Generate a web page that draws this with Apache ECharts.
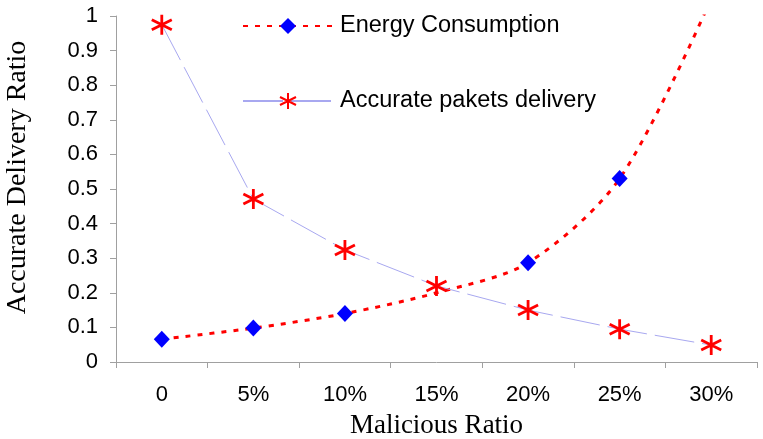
<!DOCTYPE html>
<html>
<head>
<meta charset="utf-8">
<script src="https://cdn.jsdelivr.net/npm/echarts@6/dist/echarts.min.js"></script>
<style>
html,body{margin:0;padding:0;background:#fff;}
#chart{width:763px;height:439px;}
</style>
</head>
<body>
<div id="chart"></div>
<script>
const categories = ['0', '5%', '10%', '15%', '20%', '25%', '30%'];
const energyValues = [0.066, 0.098, 0.14, 0.2, 0.287, 0.53, 1.05];
const energyHiddenMarkers = [3, 6];
const accurateValues = [0.975, 0.471, 0.324, 0.22, 0.15, 0.095, 0.049];
const yTicks = [0, 0.1, 0.2, 0.3, 0.4, 0.5, 0.6, 0.7, 0.8, 0.9, 1];

const asterisk = 'path://M10,0L10,20M1.3,5L18.7,15M1.3,15L18.7,5';

const chart = echarts.init(document.getElementById('chart'));
chart.setOption({
  animation: false,
  backgroundColor: '#fff',
  grid: { left: 116, right: 6, top: 16, bottom: 77, containLabel: false, outerBoundsMode: 'none' },
  legend: {
    orient: 'vertical',
    left: 237,
    top: 9,
    itemWidth: 90,
    itemHeight: 20,
    itemGap: 51,
    textStyle: { fontFamily: 'Liberation Sans, Arial', fontSize: 23.5, color: '#000', padding: [0, 0, 0, 2] },
    data: ['Energy Consumption', 'Accurate pakets delivery']
  },
  xAxis: {
    type: 'category',
    data: categories,
    boundaryGap: true,
    name: 'Malicious Ratio',
    nameLocation: 'middle',
    nameGap: 50,
    nameTextStyle: { fontFamily: 'Liberation Serif, Times New Roman', fontSize: 27, color: '#000' },
    axisLine: { lineStyle: { color: '#a0a0a0', width: 1 } },
    axisTick: { show: true, length: 6, alignWithLabel: false, lineStyle: { color: '#a0a0a0' } },
    axisLabel: { fontFamily: 'Liberation Sans, Arial', fontSize: 22, color: '#000', margin: 22 },
    splitLine: { show: false }
  },
  yAxis: {
    type: 'value',
    min: 0,
    max: 1,
    interval: 0.1,
    name: 'Accurate Delivery Ratio',
    nameLocation: 'middle',
    nameGap: 84,
    nameTextStyle: { fontFamily: 'Liberation Serif, Times New Roman', fontSize: 28, color: '#000', padding: [0, 0, 0, 23] },
    axisLine: { show: true, lineStyle: { color: '#a0a0a0', width: 1 } },
    axisTick: { show: true, length: 6, lineStyle: { color: '#a0a0a0' } },
    axisLabel: {
      fontFamily: 'Liberation Sans, Arial', fontSize: 22, color: '#000', margin: 18,
      formatter: function (v) {
        const t = yTicks.find(function (k) { return Math.abs(k - v) < 1e-6; });
        return t === undefined ? '' : String(t);
      }
    },
    splitLine: { show: false }
  },
  series: [
    {
      name: 'Energy Consumption',
      type: 'line',
      smooth: 0.3,
      clip: true,
      data: energyValues.map(function (v, i) {
        return energyHiddenMarkers.indexOf(i) >= 0 ? { value: v, symbol: 'none' } : v;
      }),
      symbol: 'diamond',
      symbolSize: [16, 17],
      itemStyle: { color: '#0000ff' },
      lineStyle: { color: '#ff0000', width: 3, type: [5, 7] },
      z: 2
    },
    {
      name: 'Accurate pakets delivery',
      type: 'line',
      smooth: false,
      data: accurateValues,
      symbol: asterisk,
      symbolSize: [20, 20],
      itemStyle: { color: 'none', borderColor: '#ff0000', borderWidth: 2.8 },
      lineStyle: { color: '#a8a8f0', width: 1, type: [40, 8] },
      z: 3
    }
  ]
});
</script>
</body>
</html>
